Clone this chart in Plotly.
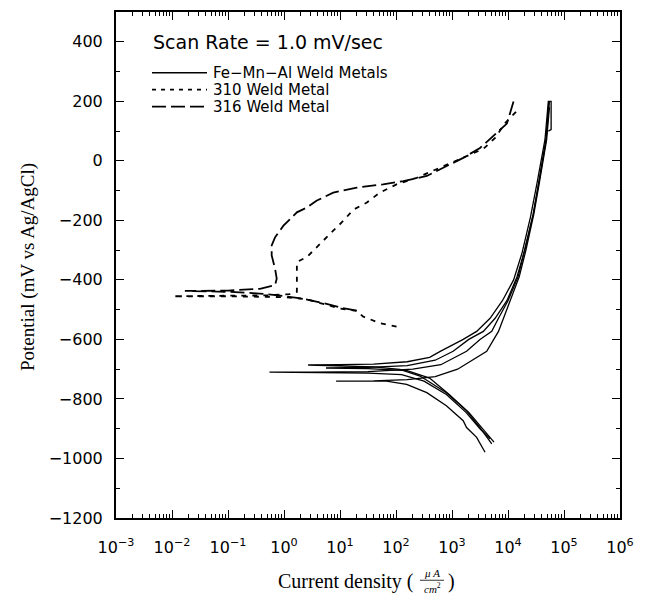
import numpy as np
import plotly.graph_objects as go

# ---------------- data (log10 of current density in uA/cm2, potential in mV) -------------
# 316 Weld Metal (long dash)
w316_logI = [1.30, 1.05, 0.70, 0.30, -0.10, -0.50, -1.00, -1.77,
             -1.00, -0.43, -0.16, -0.13, -0.16, -0.22, -0.22, -0.16, -0.01, 0.23, 0.41,
             0.58, 0.88, 1.30, 1.77, 2.13, 2.55, 2.91, 3.20, 3.50, 3.80, 3.98, 4.10]
w316_E = [-503, -495, -478, -462, -452, -445, -440, -437,
          -436, -430, -418, -396, -362, -318, -284, -257, -218, -173, -157,
          -134, -107, -90, -79, -68, -51, -18, 10, 43, 93, 125, 200]

# 310 Weld Metal (short dash)
w310_logI = [2.01, 1.71, 1.41, 1.30, 1.00, 0.70, 0.40, 0.00, -0.50, -1.00, -1.98,
             -1.00, -0.30, 0.10, 0.23, 0.23, 0.23, 0.41, 0.61, 0.82, 1.03, 1.24,
             1.48, 1.71, 2.01, 2.37, 2.85, 3.26, 3.56, 3.77, 3.95, 4.17]
w310_E = [-557, -545, -523, -504, -496, -480, -465, -458, -456, -455, -455,
          -454, -452, -448, -440, -407, -340, -323, -287, -246, -207, -164,
          -140, -107, -79, -57, -18, 16, 40, 77, 127, 170]

# Fe-Mn-Al Weld Metals (solid, several specimens)
fe1_logI = [3.71, 3.50, 3.26, 2.90, 2.43, 2.07, 1.60, 1.00, 0.43,
            1.00, 1.60, 2.20, 2.60, 2.79, 3.20, 3.44, 3.68, 3.90, 4.10, 4.25, 4.40,
            4.52, 4.60, 4.66, 4.72, 4.77, 4.77, 4.72]
fe1_E = [-951, -896, -840, -779, -723, -701, -692, -688, -686,
         -685, -683, -675, -660, -640, -600, -573, -529, -470, -400, -310, -190,
         -73, 5, 71, 200, 200, 105, 100]

fe2_logI = [3.75, 3.55, 3.30, 2.95, 2.60, 2.20, 1.50, 0.75,
            1.50, 2.20, 2.70, 3.02, 3.30, 3.56, 3.77, 3.98, 4.16, 4.30, 4.45,
            4.55, 4.62, 4.68, 4.74]
fe2_E = [-945, -900, -845, -785, -730, -705, -698, -696,
         -694, -688, -670, -640, -600, -573, -529, -470, -390, -300, -180,
         -73, 5, 71, 200]

fe3_logI = [3.68, 3.50, 3.25, 2.90, 2.50, 2.10, 1.50, 0.50, -0.26,
            0.50, 1.50, 2.30, 2.80, 3.26, 3.50, 3.71, 3.83, 4.00, 4.18, 4.30,
            4.45, 4.55, 4.62, 4.68, 4.73]
fe3_E = [-934, -900, -845, -785, -740, -718, -713, -711, -710,
         -710, -708, -700, -685, -640, -600, -573, -529, -470, -390, -300,
         -180, -73, 5, 71, 200]

fe4_logI = [3.59, 3.44, 3.26, 3.20, 2.90, 2.55, 2.19, 1.83, 0.93,
            1.60, 2.20, 2.70, 3.10, 3.62, 3.83, 3.92, 4.05, 4.20, 4.32,
            4.46, 4.56, 4.63, 4.69, 4.74]
fe4_E = [-979, -929, -896, -873, -823, -779, -751, -740, -740,
         -739, -735, -725, -700, -640, -573, -529, -470, -390, -300,
         -180, -73, 5, 71, 180]

legend_labels = ["Fe\u2212Mn\u2212Al Weld Metals", "310 Weld Metal", "316 Weld Metal"]
scan_rate_text = "Scan Rate = 1.0 mV/sec"
x_tick_exps = [-3, -2, -1, 0, 1, 2, 3, 4, 5, 6]
y_ticks = [-1200, -1000, -800, -600, -400, -200, 0, 200, 400]

# ---------------- figure ----------------
W, H = 649, 596
L, R, T, B = 116, 29, 10, 78
PW, PH = W - L - R, H - T - B


def px(x):
    return (x - L) / PW


def py(y):
    return (H - B - y) / PH


fig = go.Figure()

for lg, e in [(fe1_logI, fe1_E), (fe2_logI, fe2_E), (fe3_logI, fe3_E), (fe4_logI, fe4_E)]:
    fig.add_trace(go.Scatter(x=10 ** np.array(lg), y=e, mode="lines",
                             line=dict(color="black", width=1.3),
                             showlegend=False, hoverinfo="skip"))

fig.add_trace(go.Scatter(x=10 ** np.array(w310_logI), y=w310_E, mode="lines",
                         line=dict(color="black", width=1.8, dash="5px,6px"),
                         showlegend=False))
fig.add_trace(go.Scatter(x=10 ** np.array(w316_logI), y=w316_E, mode="lines",
                         line=dict(color="black", width=1.8, dash="14px,5px"),
                         showlegend=False))

tickfont = dict(family="DejaVu Sans", size=16, color="black")

minor_x = [m * 10.0 ** k for k in x_tick_exps[:-1] for m in range(2, 10)]

fig.update_xaxes(type="log", range=[-3, 6],
                 tickmode="array",
                 tickvals=[10.0 ** k for k in x_tick_exps],
                 ticktext=["10<sup>%s</sup>" % (str(k).replace("-", "\u2212")) for k in x_tick_exps],
                 ticks="inside", ticklen=8, tickwidth=1, tickcolor="black",
                 ticklabelstandoff=14,
                 showline=True, linewidth=2, linecolor="black", mirror="ticks",
                 showgrid=False, zeroline=False, tickfont=tickfont,
                 minor=dict(tickmode="array", tickvals=minor_x, ticks="inside", ticklen=4,
                            tickcolor="black", showgrid=False))
fig.update_yaxes(range=[-1200, 500], tickmode="array", tickvals=y_ticks,
                 ticks="inside", ticklen=8, tickwidth=1, tickcolor="black",
                 ticklabelstandoff=8,
                 showline=True, linewidth=2, linecolor="black", mirror="ticks",
                 showgrid=False, zeroline=False, tickfont=tickfont,
                 minor=dict(tickmode="linear", tick0=-1100, dtick=200, ticks="inside", ticklen=4,
                            tickcolor="black", showgrid=False))

annotations = []
shapes = []

# scan rate text
annotations.append(dict(xref="paper", yref="paper", x=px(151), y=py(40), xanchor="left",
                        yanchor="middle", showarrow=False, text=scan_rate_text,
                        font=dict(family="DejaVu Sans", size=19, color="black")))

leg_rows = [71, 88, 105]
leg_dash = ["solid", "4px,5px", "14px,5px"]
leg_w = [1.5, 1.8, 1.8]
for row, lab, d, lw in zip(leg_rows, legend_labels, leg_dash, leg_w):
    shapes.append(dict(type="line", xref="paper", yref="paper", x0=px(152), x1=px(207),
                       y0=py(row), y1=py(row), line=dict(color="black", width=lw, dash=d)))
    annotations.append(dict(xref="paper", yref="paper", x=px(211), y=py(row), xanchor="left",
                            yanchor="middle", showarrow=False, text=lab,
                            font=dict(family="DejaVu Sans", size=15, color="black")))

serif = "Liberation Serif"
# y-axis title
annotations.append(dict(xref="paper", yref="paper", x=px(28), y=py(266), xanchor="center",
                        yanchor="middle", showarrow=False, textangle=-90,
                        text="Potential (mV vs Ag/AgCl)",
                        font=dict(family=serif, size=19, color="black")))
# x-axis title with fraction
annotations.append(dict(xref="paper", yref="paper", x=px(416), y=py(582), xanchor="right",
                        yanchor="middle", showarrow=False, text="Current density (",
                        font=dict(family=serif, size=20, color="black")))
annotations.append(dict(xref="paper", yref="paper", x=px(432), y=py(573), xanchor="center",
                        yanchor="middle", showarrow=False, text="<i>\u03bc A</i>",
                        font=dict(family=serif, size=11, color="black")))
annotations.append(dict(xref="paper", yref="paper", x=px(432), y=py(588), xanchor="center",
                        yanchor="middle", showarrow=False, text="<i>cm</i><sup>2</sup>",
                        font=dict(family=serif, size=11, color="black")))
shapes.append(dict(type="line", xref="paper", yref="paper", x0=px(420), x1=px(444),
                   y0=py(580.5), y1=py(580.5), line=dict(color="black", width=0.8)))
annotations.append(dict(xref="paper", yref="paper", x=px(446), y=py(582), xanchor="left",
                        yanchor="middle", showarrow=False, text=")",
                        font=dict(family=serif, size=20, color="black")))

fig.update_layout(width=W, height=H, margin=dict(l=L, r=R, t=T, b=B),
                  paper_bgcolor="white", plot_bgcolor="white",
                  showlegend=False, annotations=annotations, shapes=shapes)

fig.write_html("out.html")
